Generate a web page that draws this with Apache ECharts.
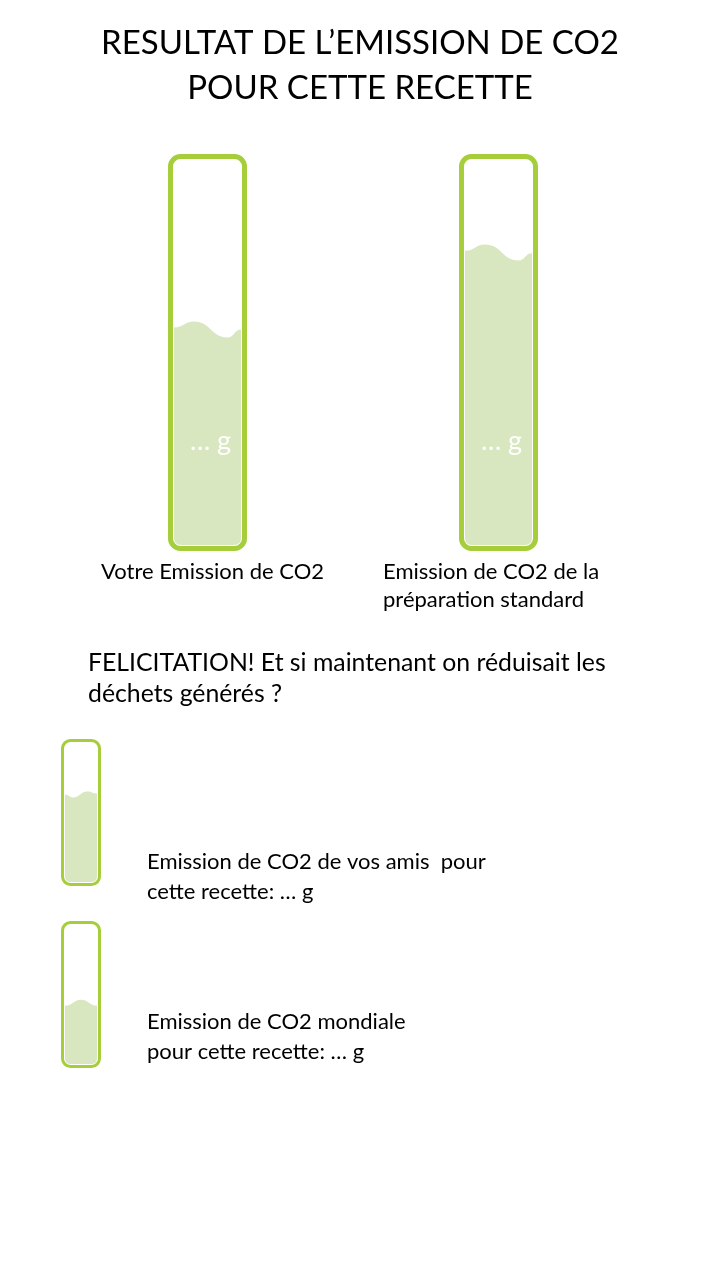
<!DOCTYPE html>
<html>
<head>
<meta charset="utf-8">
<script src="https://cdn.jsdelivr.net/npm/echarts@6/dist/echarts.min.js"></script>
<style>
html,body{margin:0;padding:0;background:#fff;}
#chart{width:721px;height:1281px;}
</style>
</head>
<body>
<div id="chart"></div>
<script>
// ---- data ----
const titleLines = ['RESULTAT DE L\u2019EMISSION DE CO2', 'POUR CETTE RECETTE'];
const tubeKeys = ['votre', 'standard', 'amis', 'mondiale'];
const fillLevels = [56, 76, 63, 44];          // fill level, % of tube height
const valueLabels = ['\u2026 g', '\u2026 g', '', ''];
const captionVotre = ['Votre Emission de CO2'];
const captionStandard = ['Emission de CO2 de la', 'pr\u00e9paration standard'];
const messageLines = ['FELICITATION! Et si maintenant on r\u00e9duisait les', 'd\u00e9chets g\u00e9n\u00e9r\u00e9s ?'];
const captionAmis = ['Emission de CO2 de vos amis  pour', 'cette recette: \u2026 g'];
const captionMondiale = ['Emission de CO2 mondiale', 'pour cette recette: \u2026 g'];

// ---- styling / layout ----
const FONT = 'Lato';
const BORDER = '#a6cd3a';
const FILL = '#d8e7bf';
const grids = [
  {left: 174, top: 160, width: 67, height: 385},
  {left: 465, top: 160, width: 67, height: 385},
  {left: 65, top: 743, width: 32, height: 139},
  {left: 65, top: 925, width: 32, height: 139}
];
const tubeStyle = [
  {lw: 5, pad: 3.5, r: 10, br: 7, A: 8, wave: [[0, -0.25], [0.3, -1], [0.8, 1], [1, 0]]},
  {lw: 5, pad: 3.5, r: 10, br: 7, A: 8, wave: [[0, -0.2], [0.3, -1], [0.8, 1], [1, 0.1]]},
  {lw: 3, pad: 2.5, r: 8, br: 6, A: 3, wave: [[0, 0], [0.25, 1], [0.7, -1], [1, -0.3]]},
  {lw: 3, pad: 2.5, r: 8, br: 6, A: 3, wave: [[0, 1], [0.5, -1], [1, 1]]}
];

function renderTube(params, api) {
  const i = params.seriesIndex;
  const st = tubeStyle[i];
  const cs = params.coordSys;
  const v = api.value(1);
  const lvl = api.coord([0, v])[1];
  const bot = api.coord([0, 0])[1];
  const top = api.coord([0, 100])[1];
  const x0 = cs.x, x1 = cs.x + cs.width, w = cs.width;
  const pts = st.wave.map(p => [x0 + p[0] * w, lvl + p[1] * st.A]);
  let d = 'M' + pts[0][0] + ',' + pts[0][1];
  for (let k = 1; k < pts.length; k++) {
    const a = pts[k - 1], b = pts[k], dx = (b[0] - a[0]) / 2;
    d += ' C' + (a[0] + dx) + ',' + a[1] + ' ' + (b[0] - dx) + ',' + b[1] + ' ' + b[0] + ',' + b[1];
  }
  const br = st.br;
  d += ' L' + x1 + ',' + (bot - br) + ' Q' + x1 + ',' + bot + ' ' + (x1 - br) + ',' + bot +
       ' L' + (x0 + br) + ',' + bot + ' Q' + x0 + ',' + bot + ' ' + x0 + ',' + (bot - br) + ' Z';
  const children = [
    {type: 'path', shape: {pathData: d}, style: {fill: FILL}},
    {type: 'rect', shape: {x: x0 - st.pad, y: top - st.pad, width: w + 2 * st.pad, height: bot - top + 2 * st.pad, r: st.r},
     style: {fill: 'none', stroke: BORDER, lineWidth: st.lw}}
  ];
  if (valueLabels[i]) {
    children.push({type: 'text', x: x0 + w / 2 + 3, y: bot - 0.27 * (bot - top),
      style: {text: valueLabels[i], fill: '#ffffff', fontSize: 27, fontFamily: FONT, align: 'center', verticalAlign: 'middle'}});
  }
  return {type: 'group', children: children};
}

function textLines(lines, x, y0, step, size, align) {
  return lines.map((t, k) => ({
    type: 'text', x: x, y: y0 + k * step,
    style: {text: t, fill: '#000', fontSize: size, fontFamily: FONT, align: align || 'left', verticalAlign: 'middle'}
  }));
}

const chart = echarts.init(document.getElementById('chart'), null, {renderer: 'canvas'});
const option = {
  backgroundColor: '#ffffff',
  animation: false,
  grid: grids.map(g => Object.assign({containLabel: false}, g)),
  xAxis: grids.map((g, i) => ({type: 'category', gridIndex: i, data: [tubeKeys[i]], show: false})),
  yAxis: grids.map((g, i) => ({type: 'value', gridIndex: i, min: 0, max: 100, show: false})),
  series: fillLevels.map((v, i) => ({
    type: 'custom', name: tubeKeys[i], xAxisIndex: i, yAxisIndex: i,
    renderItem: renderTube, data: [[0, v]]
  })),
  graphic: [].concat(
    textLines(titleLines, 360, 43, 45, 33, 'center'),
    textLines(captionVotre, 101, 572, 28, 22),
    textLines(captionStandard, 383, 572, 28, 22),
    textLines(messageLines, 88, 663, 31, 24.8),
    textLines(captionAmis, 147, 862, 30, 22),
    textLines(captionMondiale, 147, 1022, 30, 22)
  )
};
chart.setOption(option);
</script>
</body>
</html>
